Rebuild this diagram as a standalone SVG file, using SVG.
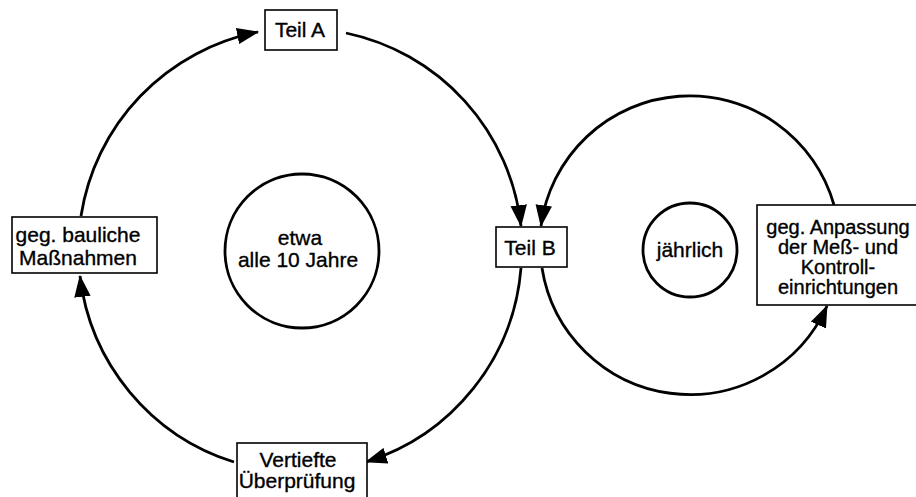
<svg xmlns="http://www.w3.org/2000/svg" width="916" height="497" viewBox="0 0 916 497">
  <style>
    .box { fill: #fff; stroke: #000; stroke-width: 1.6; }
    .ring { fill: none; stroke: #000; stroke-width: 2.8; }
    .arc { fill: none; stroke: #000; stroke-width: 2.8; marker-end: url(#head); }
    text { font-family: "Liberation Sans", Arial, sans-serif; font-size: 21px; fill: #000; stroke: #000; stroke-width: 0.35; text-anchor: middle; }
    .tight { font-size: 20px; }
  </style>
  <defs>
    <marker id="head" markerUnits="userSpaceOnUse" markerWidth="22" markerHeight="17" viewBox="0 0 20 15" refX="19" refY="7.5" orient="auto">
      <path d="M0,0 L20,7.5 L0,15 Z" fill="#000"/>
    </marker>
  </defs>
  <rect width="916" height="497" fill="#fff"/>

  <!-- connectors: ten-year cycle (left ring) and annual cycle (right ring) -->
  <g id="connectors">
    <path class="arc" d="M81,216 A222,222 0 0 1 258,32"/>
    <path class="arc" d="M346,33 A222,222 0 0 1 521,226"/>
    <path class="arc" d="M521,268 A222,222 0 0 1 366,462"/>
    <path class="arc" d="M234,462 A222,222 0 0 1 80,276"/>
    <path class="arc" d="M834,205 A150,150 0 0 0 541,226"/>
    <path class="arc" d="M542,268 A150,150 0 0 0 827,306"/>
  </g>

  <g id="cycle-10-years">
    <circle class="ring" cx="302" cy="251" r="77"/>
    <text x="300" y="245">etwa</text>
    <text x="298" y="267">alle 10 Jahre</text>
  </g>

  <g id="cycle-annual">
    <circle class="ring" cx="690" cy="250" r="47"/>
    <text x="690" y="257">jährlich</text>
  </g>

  <g id="teil-a">
    <rect class="box" x="265" y="10" width="72" height="40"/>
    <text x="300" y="37">Teil A</text>
  </g>

  <g id="teil-b">
    <rect class="box" x="496" y="227" width="71" height="40"/>
    <text x="530" y="255">Teil B</text>
  </g>

  <g id="bauliche-massnahmen">
    <rect class="box" x="12" y="217" width="145" height="56"/>
    <text x="78" y="242">geg. bauliche</text>
    <text x="78" y="265">Maßnahmen</text>
  </g>

  <g id="vertiefte-ueberpruefung">
    <rect class="box" x="237" y="443" width="130" height="60"/>
    <text x="298" y="467">Vertiefte</text>
    <text x="297" y="488">Überprüfung</text>
  </g>

  <g id="anpassung-messeinrichtungen">
    <rect class="box" x="757" y="205" width="170" height="100"/>
    <text class="tight" x="838" y="234">geg. Anpassung</text>
    <text class="tight" x="838" y="254">der Meß- und</text>
    <text class="tight" x="838" y="274">Kontroll-</text>
    <text class="tight" x="838" y="294">einrichtungen</text>
  </g>
</svg>
